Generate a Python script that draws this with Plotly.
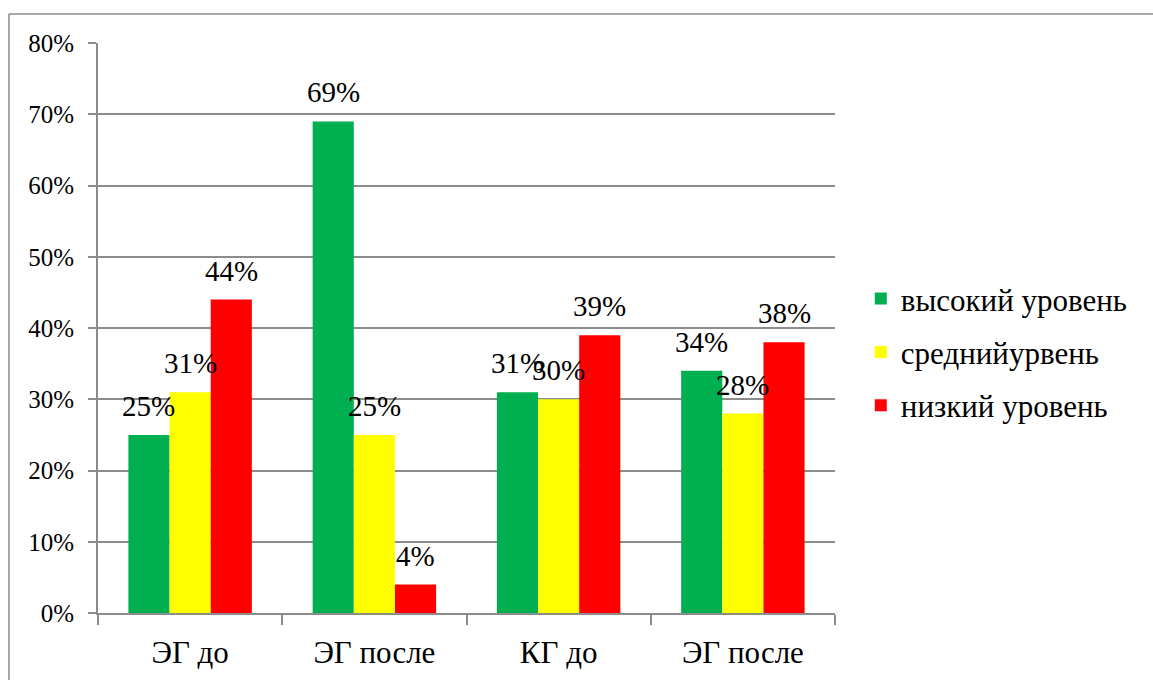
import plotly.graph_objects as go

categories = ["ЭГ до", "ЭГ после", "КГ до", "ЭГ после"]
series_names = ["высокий уровень", "среднийурвень", "низкий уровень"]
high = [0.25, 0.69, 0.31, 0.34]
mid = [0.31, 0.25, 0.30, 0.28]
low = [0.44, 0.04, 0.39, 0.38]
colors = ["#00B050", "#FFFF00", "#FF0000"]
y_ticks = [0, 0.1, 0.2, 0.3, 0.4, 0.5, 0.6, 0.7, 0.8]

series = [high, mid, low]
BARGAP = 0.33
GRAY = "#8c8c8c"
FONT = "Liberation Serif"

x_idx = list(range(len(categories)))

fig = go.Figure()
for k, (name, vals, col) in enumerate(zip(series_names, series, colors)):
    fig.add_trace(go.Bar(
        x=x_idx, y=vals, name=name, marker=dict(color=col, line=dict(width=0)),
        legendgroup=name, hoverinfo="skip",
    ))

# data labels above bars
n = len(series)
w = (1 - BARGAP) / n
annotations = []
for k, vals in enumerate(series):
    for i, v in enumerate(vals):
        annotations.append(dict(
            x=i + (k - (n - 1) / 2) * w, y=v, xref="x", yref="y",
            text=f"{round(v*100)}%", showarrow=False, yanchor="bottom",
            yshift=11, font=dict(family=FONT, size=29, color="black"),
        ))

fig.update_layout(
    width=1153, height=680,
    margin=dict(l=98, r=318, t=43, b=67),
    paper_bgcolor="white", plot_bgcolor="white",
    barmode="group", bargap=BARGAP, bargroupgap=0,
    font=dict(family=FONT, color="black"),
    annotations=annotations,
    legend=dict(x=1.035, y=0.458, xanchor="left", yanchor="middle",
                font=dict(family=FONT, size=31), tracegroupgap=10,
                bgcolor="rgba(0,0,0,0)"),
    shapes=[
        dict(type="line", xref="paper", yref="paper", x0=-0.1208, x1=1.45, y0=1.0509, y1=1.0509,
             line=dict(color=GRAY, width=1.5)),
        dict(type="line", xref="paper", yref="paper", x0=-0.1208, x1=-0.1208, y0=-0.13, y1=1.0509,
             line=dict(color=GRAY, width=1.5)),
    ],
)
fig.update_xaxes(
    range=[-0.5, len(categories) - 0.5], tickmode="array", tickvals=x_idx, ticktext=categories,
    ticks="", showline=True, linecolor=GRAY, linewidth=2, showgrid=False, zeroline=False,
    tickfont=dict(family=FONT, size=31), ticklabelstandoff=11, automargin=False,
    minor=dict(tickmode="array", tickvals=[i - 0.5 for i in range(len(categories) + 1)],
               ticks="outside", ticklen=10, tickwidth=2, tickcolor=GRAY, showgrid=False),
)
fig.update_yaxes(
    range=[0, 0.8], tickmode="array", tickvals=y_ticks, tickformat=".0%",
    ticks="outside", ticklen=8, tickwidth=2, tickcolor=GRAY,
    showline=True, linecolor=GRAY, linewidth=2, ticklabelstandoff=9, automargin=False,
    showgrid=True, gridcolor=GRAY, gridwidth=2, zeroline=False,
    tickfont=dict(family=FONT, size=25),
)

fig.write_html("out.html")
